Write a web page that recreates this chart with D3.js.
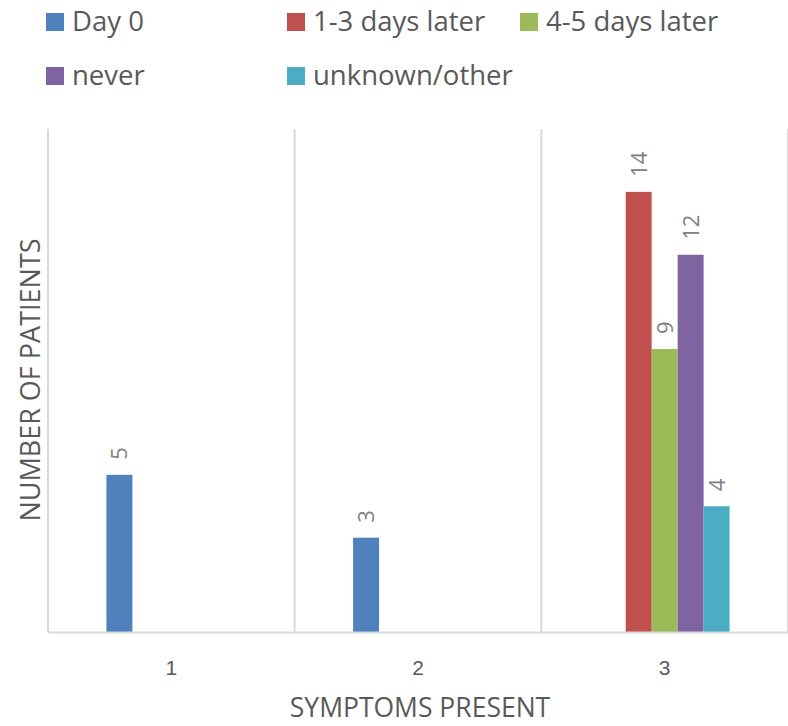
<!DOCTYPE html>
<html><head><meta charset="utf-8">
<script src="https://cdn.jsdelivr.net/npm/d3@7"></script>
<style>body{margin:0;background:#fff;} svg{display:block;font-family:"Open Sans","Noto Sans",sans-serif;}</style>
</head><body>
<svg id="c" width="788" height="726"></svg>
<script>
const categories = ["1","2","3"];
const seriesNames = ["Day 0","1-3 days later","4-5 days later","never","unknown/other"];
const seriesColors = ["#4f81bd","#c0504d","#9bbb59","#8064a2","#4bacc6"];
const dayZero = [5,3,0];
const oneToThree = [0,0,14];
const fourToFive = [0,0,9];
const never = [0,0,12];
const unknownOther = [0,0,4];
const values = [dayZero, oneToThree, fourToFive, never, unknownOther];

const svg = d3.select("#c");
const m = {l:48, r:0, t:129, b:94};
const W = 788, H = 726;
const x0 = d3.scaleBand().domain(categories).range([m.l, W - m.r]).padding(0);
const x1 = d3.scaleBand().domain(seriesNames).range([0, x0.bandwidth()]).paddingInner(0).paddingOuter(2.25);
const y = d3.scaleLinear().domain([0,16]).range([H - m.b, m.t]);

// gridlines (category separators)
const bounds = categories.map(c => x0(c)).concat([x0(categories[categories.length-1]) + x0.bandwidth()]);
svg.append("g").selectAll("line").data(bounds).join("line")
  .attr("x1", d => d).attr("x2", d => d).attr("y1", m.t).attr("y2", y(0))
  .attr("stroke", "#d9d9d9").attr("stroke-width", 2);

// bars
const g = svg.append("g");
seriesNames.forEach((s, si) => {
  categories.forEach((c, ci) => {
    const v = values[si][ci];
    if (!v) return;
    const bx = x0(c) + x1(s);
    g.append("rect").attr("x", bx).attr("width", x1.bandwidth())
      .attr("y", y(v)).attr("height", y(0) - y(v)).attr("fill", seriesColors[si]);
    const lx = bx + x1.bandwidth()/2, ly = y(v) - 15;
    g.append("text").attr("transform", `translate(${lx + 8},${ly}) rotate(-90)`)
      .attr("text-anchor", "start").attr("font-size", 22).attr("fill", "#808080").text(v);
  });
});

// baseline axis
const xa = svg.append("g").attr("transform", `translate(0,${y(0)})`)
  .call(d3.axisBottom(x0).tickSize(0).tickPadding(28));
xa.select(".domain").attr("stroke", "#d9d9d9").attr("stroke-width", 2);
xa.selectAll("text").attr("font-size", 21).attr("fill", "#595959").attr("font-family", "inherit");

// axis titles
svg.append("text").attr("x", 420).attr("y", 717).attr("text-anchor", "middle")
  .attr("font-size", 26.5).attr("fill", "#595959").text("SYMPTOMS PRESENT");
svg.append("text").attr("transform", "translate(40,380) rotate(-90)").attr("text-anchor", "middle")
  .attr("font-size", 27).attr("fill", "#595959").text("NUMBER OF PATIENTS");

// legend
const legPos = [[46,13],[287,13],[520,13],[46,67],[287,67]];
seriesNames.forEach((s, i) => {
  const [lx, ly] = legPos[i];
  svg.append("rect").attr("x", lx).attr("y", ly).attr("width", 18).attr("height", 18).attr("fill", seriesColors[i]);
  svg.append("text").attr("x", lx + 26).attr("y", ly + 18).attr("font-size", 27.5).attr("fill", "#595959").text(s);
});
</script>
</body></html>
